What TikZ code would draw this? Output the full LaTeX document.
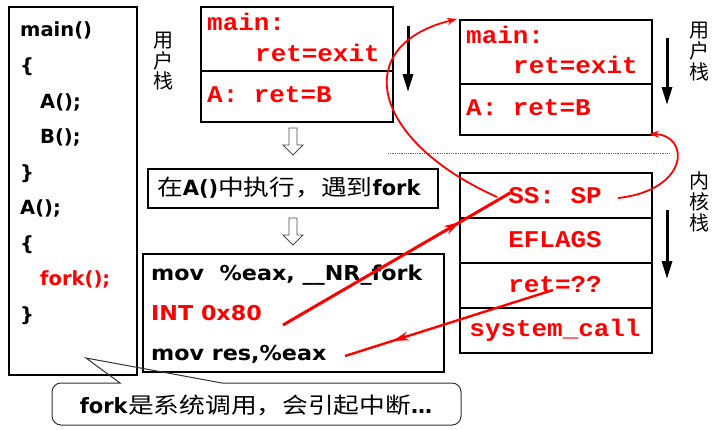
\documentclass[tikz,border=0pt]{standalone}
\usepackage{fontspec}
\setmainfont{DejaVu Sans}
\newfontfamily\cjk[FakeStretch=1.17]{Noto Sans CJK SC}
\newfontfamily\cjkv{Noto Sans CJK SC}
\newfontfamily\wide[FakeStretch=1.085]{DejaVu Sans}
\newfontfamily\cour[FakeStretch=1.08]{Liberation Mono}
\usetikzlibrary{arrows.meta,decorations.markings}
\definecolor{pred}{RGB}{255,0,0}
\begin{document}
\begin{tikzpicture}[x=1pt,y=-1pt,
  box/.style={draw,line width=1.6pt,inner sep=0pt},
  code/.style={anchor=base west,inner sep=0pt,font=\bfseries\fontsize{19.5}{22}\selectfont},
  asmc/.style={anchor=base west,inner sep=0pt,font=\wide\bfseries\fontsize{20.5}{22}\selectfont},
  stk/.style={inner sep=0pt,text=pred,font=\cour\bfseries\fontsize{24}{26}\selectfont},
  vchar/.style={inner sep=0pt,font=\cjkv\fontsize{20}{20}\selectfont},
  hollow/.style={draw=black!70,line width=0.8pt,fill=white},
  darr/.style={line width=3pt,-{Triangle[length=18pt,width=10pt]}},
  redc/.style={pred,line width=1.8pt,-{Stealth[length=10pt,width=7pt]}},
  redl/.style={pred,postaction={decorate}}
]
\useasboundingbox (0,0) rectangle (719,429);

% left program box
\node[box,anchor=north west,minimum width=128pt,minimum height=368pt] (prog) at (8,6) {};
\node[code] (l1) at (20,36) {main()};
\node[code] (l2) at (20,72) {\{};
\node[code] (l3) at (40,108) {A();};
\node[code] (l4) at (40,143) {B();};
\node[code] (l5) at (20,179) {\}};
\node[code] (l6) at (20,214) {A();};
\node[code] (l7) at (20,250) {\{};
\node[code,text=pred] (l8) at (40,285) {fork();};
\node[code] (l9) at (20,321) {\}};

% user stack 1
\node[vchar] (us1a) at (163,41) {用};
\node[vchar] (us1b) at (163,61) {户};
\node[vchar] (us1c) at (163,81) {栈};
\node[box,anchor=north west,minimum width=192pt,minimum height=64pt] (ua1) at (200,6) {};
\node[box,anchor=north west,minimum width=192pt,minimum height=51pt] (ub1) at (200,70) {};
\node[stk,anchor=base west] (m1) at (207,30) {main:};
\node[stk,anchor=base west] (r1) at (255,61) {ret=exit};
\node[stk,anchor=base west] (a1) at (207,102) {A: ret=B};
\coordinate (d1s) at (408,26); \coordinate (d1e) at (408,92);
\draw[darr] (d1s) -- (d1e);

% hollow arrows
\draw[hollow] (289,128) -- (297,128) -- (297,145) -- (303,145) -- (293,155) -- (283,145) -- (289,145) -- cycle;
\draw[hollow] (289,218) -- (297,218) -- (297,235) -- (303,235) -- (293,245) -- (283,235) -- (289,235) -- cycle;

% middle box
\node[box,anchor=north west,minimum width=290pt,minimum height=39pt] (mid) at (147,168) {};
\node[inner sep=0pt,font=\fontsize{21}{24}\selectfont] (midt) at (289,188) {{\cjk\fontsize{22}{24}\selectfont 在}\textbf{A()}{\cjk\fontsize{22}{24}\selectfont 中执行，遇到}\textbf{fork}};

% code box
\node[box,anchor=north west,minimum width=301pt,minimum height=118pt] (asm) at (142,253) {};
\node[asmc] (c1) at (151,280) {mov\ \ \%eax, \_\_NR\_fork};
\node[asmc,text=pred] (c2) at (151,320) {INT 0x80};
\node[asmc] (c3) at (151,360) {mov res,\%eax};

% right user stack
\node[box,anchor=north west,minimum width=192pt,minimum height=64pt] (ua2) at (459,19) {};
\node[box,anchor=north west,minimum width=192pt,minimum height=51pt] (ub2) at (459,83) {};
\node[stk,anchor=base west] (m2) at (466,43) {main:};
\node[stk,anchor=base west] (r2) at (513,73) {ret=exit};
\node[stk,anchor=base west] (a2) at (466,115) {A: ret=B};
\node[vchar] (us2a) at (699,31) {用};
\node[vchar] (us2b) at (699,51) {户};
\node[vchar] (us2c) at (699,72) {栈};
\coordinate (d2s) at (667,38); \coordinate (d2e) at (667,105);
\draw[darr] (d2s) -- (d2e);

% dotted separator
\coordinate (sepl) at (388,153); \coordinate (sepr) at (669,153);
\draw[black!60,densely dotted,line width=0.8pt] (sepl) -- (sepr);

% kernel stack
\node[box,anchor=north west,minimum width=192pt,minimum height=45pt] (k1) at (459,172) {};
\node[box,anchor=north west,minimum width=192pt,minimum height=45pt] (k2) at (459,217) {};
\node[box,anchor=north west,minimum width=192pt,minimum height=45pt] (k3) at (459,262) {};
\node[box,anchor=north west,minimum width=192pt,minimum height=45pt] (k4) at (459,307) {};
\node[stk,anchor=base] (ss) at (555,203) {SS:\ SP};
\node[stk,anchor=base] (ef) at (555,247) {EFLAGS};
\node[stk,anchor=base] (rq) at (555,292) {ret=??};
\node[stk,anchor=base] (sc) at (555,336) {system\_call};
\node[vchar] (ksa) at (699,181) {内};
\node[vchar] (ksb) at (699,202) {核};
\node[vchar] (ksc) at (699,223) {栈};
\coordinate (d3s) at (667,210); \coordinate (d3e) at (667,279);
\draw[darr] (d3s) -- (d3e);

% callout
\node[inner sep=0pt,font=\fontsize{21}{24}\selectfont] (call) at (256,405) {\textbf{fork}{\cjk\fontsize{22}{24}\selectfont 是系统调用，会引起中断}\textbf{…}};
\draw[line width=1pt,black!80] (120,383) -- (86,358) -- (222,383) [rounded corners=9pt] -- (461,383) -- (461,425) -- (52,425) -- (52,383) [sharp corners] -- cycle;

% red connectors
\coordinate (ssw) at (497,197);
\coordinate (sse) at (618,198);
\coordinate (ua2c) at (457,19);
\coordinate (ub2c) at (649,134);
\draw[redc] (ssw) .. controls (370,140) and (350,45) .. (ua2c);
\draw[redc] (sse) .. controls (690,190) and (690,135) .. (ub2c);

\coordinate (intend) at (283,325);
\coordinate (sstip) at (510,193);
\draw[redl,line width=3pt,decoration={markings,mark=at position 0.78 with {\arrow{Stealth[length=16pt,width=9pt]}}}] (intend) -- (sstip);
\coordinate (rqs) at (553,290);
\coordinate (movend) at (345,356);
\draw[redl,line width=2.4pt,decoration={markings,mark=at position 0.77 with {\arrow{Stealth[length=16pt,width=9pt]}}}] (rqs) -- (movend);
\end{tikzpicture}
\end{document}
